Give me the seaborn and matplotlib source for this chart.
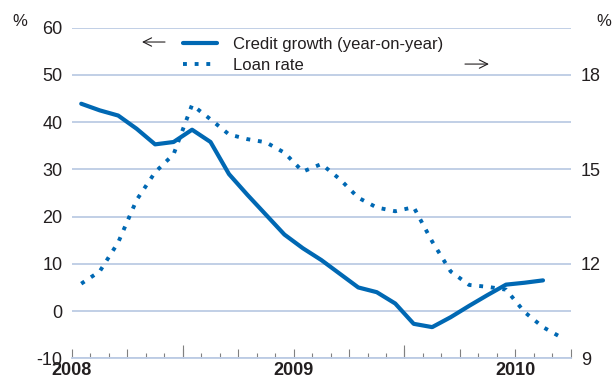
import numpy as np
import pandas as pd
import matplotlib
matplotlib.use("Agg")
import matplotlib.pyplot as plt
from matplotlib.lines import Line2D
import seaborn as sns

# ---- data ----
credit_months = pd.date_range("2008-01", "2010-02", freq="MS")   # Jan 2008 .. Feb 2010
credit_growth = [43.9, 42.5, 41.4, 38.6, 35.3, 35.8, 38.4, 35.8, 29.0, 24.6, 20.4, 16.2, 13.3,
                 10.8, 7.9, 5.0, 4.0, 1.6, -2.7, -3.4, -1.3, 1.1, 3.4, 5.6, 6.0, 6.5]
loan_months = pd.date_range("2008-01", "2010-03", freq="MS")     # Jan 2008 .. Mar 2010
loan_rate = [11.37, 11.76, 12.68, 14.03, 14.91, 15.48, 17.05, 16.59, 16.11, 15.96, 15.86, 15.53,
             14.93, 15.17, 14.69, 14.10, 13.79, 13.67, 13.80, 12.71, 11.76, 11.33, 11.27, 11.18,
             10.47, 9.99, 9.66]
year_labels = ["2008", "2009", "2010"]
left_ticks = [-10, 0, 10, 20, 30, 40, 50, 60]
right_ticks = [9, 12, 15, 18]
series_names = ["Credit growth (year-on-year)", "Loan rate"]


def month_pos(dates):
    # mid-month position on an axis measured in months since Jan 2008
    return (dates.year - 2008) * 12 + (dates.month - 1) + 0.5


df_credit = pd.DataFrame({"x": month_pos(credit_months), "v": credit_growth})
df_loan = pd.DataFrame({"x": month_pos(loan_months), "v": loan_rate})

sns.set_theme(style="white")
plt.rcParams["font.family"] = ["Liberation Sans", "DejaVu Sans"]
plt.rcParams["axes.unicode_minus"] = False

BLUE = "#0068b3"
GRID = "#bccbe4"
TXT = "#231f20"

fig = plt.figure(figsize=(6.16, 3.76), dpi=100)
ax = fig.add_axes([72 / 616, 1 - 358.3 / 376, (570.7 - 72) / 616, (358.3 - 27.7) / 376])
ax2 = ax.twinx()

sns.lineplot(data=df_credit, x="x", y="v", ax=ax, color=BLUE, lw=3.0, legend=False)
sns.lineplot(data=df_loan, x="x", y="v", ax=ax2, color=BLUE, lw=2.8, legend=False,
             linestyle=(0, (1, 2)))
ax2.lines[0].set_dash_capstyle("butt")

ax.set_xlim(0, 27)
ax.set_ylim(-10, 60)
ax2.set_ylim(9, 19.5)
ax.set_xlabel("")
ax.set_ylabel("")
ax2.set_ylabel("")

# y axes
ax.set_yticks(left_ticks)
ax.set_yticklabels([str(t) for t in left_ticks])
ax.tick_params(axis="y", length=0, pad=7, labelsize=13, labelcolor=TXT)
ax2.set_yticks(right_ticks)
ax2.set_yticklabels([str(t) for t in right_ticks])
ax2.tick_params(axis="y", length=0, pad=7.5, labelsize=13, labelcolor=TXT)
ax.yaxis.grid(True, color=GRID, lw=1.3)
ax.set_axisbelow(True)

for a in (ax, ax2):
    for s in ("left", "right", "top"):
        a.spines[s].set_visible(False)
ax.spines["bottom"].set_visible(True)
ax.spines["bottom"].set_color(GRID)
ax.spines["bottom"].set_linewidth(1.3)
ax2.spines["bottom"].set_visible(False)

# x axis: quarter ticks (medium), monthly minor ticks, year labels
quarters = list(range(0, 28, 3))
ax.set_xticks(quarters)
ax.set_xticklabels([year_labels[q // 12] if q % 12 == 0 else "" for q in quarters],
                   fontweight="bold")
ax.set_xticks(list(range(0, 28)), minor=True)
ax.tick_params(axis="x", which="major", direction="in", length=6.5, width=0.8,
               color="#808080", pad=2.6, labelsize=13, labelcolor=TXT, bottom=True)
ax.tick_params(axis="x", which="minor", direction="in", length=3.6, width=0.8,
               color="#808080", bottom=True)
sec = ax.secondary_xaxis("bottom")
sec.set_xticks([6, 18])
sec.tick_params(axis="x", direction="in", length=9.5, width=0.8, color="#808080",
                labelbottom=False)
sec.spines["bottom"].set_visible(False)

# legend
handles = [Line2D([], [], color=BLUE, lw=3.0),
           Line2D([], [], color=BLUE, lw=2.8, linestyle=(0, (1, 2)), dash_capstyle="butt")]
leg = ax.legend(handles, series_names, loc="upper left", bbox_to_anchor=(0.2226, 0.973),
                frameon=False, fontsize=12, handlelength=2.05, handletextpad=0.95,
                borderpad=0, borderaxespad=0, labelspacing=0.4)
for t in leg.get_texts():
    t.set_color(TXT)

# direction arrows
ax.annotate("", xy=(0.1404, 0.9567), xytext=(0.1865, 0.9567), xycoords="axes fraction",
            arrowprops=dict(arrowstyle="->,head_length=0.5,head_width=0.25", lw=0.8,
                            color=TXT, shrinkA=0, shrinkB=0))
ax.annotate("", xy=(0.836, 0.890), xytext=(0.788, 0.890), xycoords="axes fraction",
            arrowprops=dict(arrowstyle="->,head_length=0.5,head_width=0.25", lw=0.8,
                            color=TXT, shrinkA=0, shrinkB=0))

# unit labels
fig.text(12 / 616, 1 - 14 / 376, "%", fontsize=12, color=TXT, ha="left", va="top")
fig.text(596 / 616, 1 - 14 / 376, "%", fontsize=12, color=TXT, ha="left", va="top")

fig.savefig("out.png", dpi=100)
